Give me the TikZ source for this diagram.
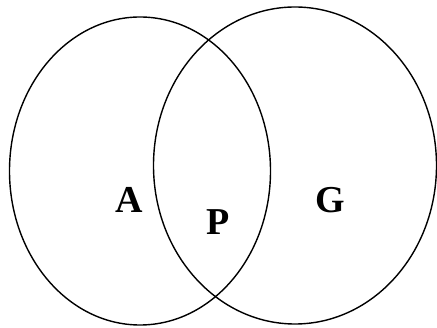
\documentclass[tikz,border=0pt]{standalone}
\usepackage{fontspec}
\setmainfont{Liberation Serif}
\begin{document}
\begin{tikzpicture}[x=1pt,y=-1pt,
  setshape/.style={draw=black,line width=1.4pt},
  setlabel/.style={font=\fontsize{38}{40}\selectfont\bfseries,inner sep=0pt}]
\useasboundingbox (0,0) rectangle (437,328);
% the two sets
\draw[setshape] (140,171) ellipse [x radius=130.5pt, y radius=154pt];
\draw[setshape] (295,165.5) ellipse [x radius=141.5pt, y radius=158.5pt];
% region labels
\node[setlabel] (a) at (129.5,200) {A};
\node[setlabel] (p) at (218,222) {P};
\node[setlabel] (g) at (330,200) {G};
\end{tikzpicture}
\end{document}
